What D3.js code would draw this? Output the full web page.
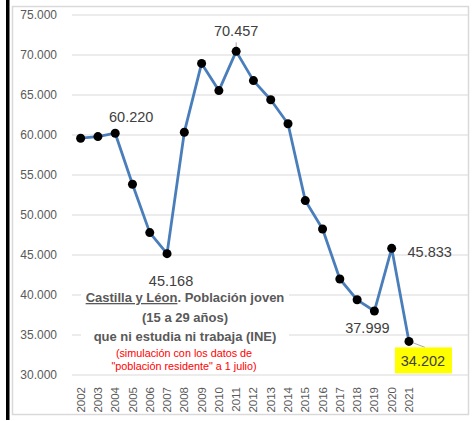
<!DOCTYPE html>
<html>
<head>
<meta charset="utf-8">
<script src="https://cdnjs.cloudflare.com/ajax/libs/d3/7.8.5/d3.min.js"></script>
<style>
    body { margin: 0; background: #fff; }
    svg { display: block; font-family: 'Liberation Sans', Arial, sans-serif; }
</style>
</head>
<body>
<div id="svgContainer"></div>
<script>
//data
var years = ['2002','2003','2004','2005','2006','2007','2008','2009','2010','2011',
    '2012','2013','2014','2015','2016','2017','2018','2019','2020','2021'];
var population = [59600, 59800, 60220, 53850, 47800, 45168, 60350, 68950, 65550, 70457,
    66800, 64400, 61400, 51800, 48250, 42000, 39400, 37999, 45833, 34202];
var yTicks = [30000, 35000, 40000, 45000, 50000, 55000, 60000, 65000, 70000, 75000];
var labelYears = ['2004', '2007', '2011', '2019', '2020', '2021'];
var titleLines = ['Población joven', '(15 a 29 años)', 'que ni estudia ni trabaja (INE)'];
var noteLines = ['(simulación con los datos de', '"población residente" a 1 julio)'];
//end data

var width = 473, height = 421;
var plotLeft = 72, plotRight = 468, plotTop = 15, plotBottom = 375;
var step = 17.28;

var svg = d3.select('#svgContainer').append('svg')
    .attr('width', width)
    .attr('height', height);

var fmt = function(v){ return d3.format(',')(v).replace(/,/g, '.'); };

var x = d3.scaleBand()
    .domain(years)
    .range([plotLeft, plotLeft + step * years.length]);

var y = d3.scaleLinear()
    .domain([30000, 75000])
    .range([plotBottom, plotTop]);

//black bar and chart frame
svg.append('rect')
    .attr('x', 6).attr('y', 0)
    .attr('width', 3.5).attr('height', 420)
    .attr('fill', '#000');

svg.append('rect')
    .attr('x', 12.5).attr('y', 6.5)
    .attr('width', 456).attr('height', 408)
    .attr('fill', '#fff')
    .attr('stroke', '#d9d9d9')
    .attr('stroke-width', 1.5);

//gridlines
svg.append('g')
    .selectAll('line')
    .data(yTicks)
    .enter().append('line')
    .attr('x1', plotLeft)
    .attr('x2', plotRight)
    .attr('y1', function(d){ return y(d); })
    .attr('y2', function(d){ return y(d); })
    .attr('stroke', '#d9d9d9')
    .attr('stroke-width', 1);

//y axis labels
var yAxis = svg.append('g')
    .attr('transform', 'translate(' + (plotLeft - 15) + ',0)')
    .call(d3.axisLeft(y).tickValues(yTicks).tickFormat(fmt).tickSize(0).tickPadding(0));
yAxis.select('.domain').remove();
yAxis.selectAll('text')
    .attr('fill', '#595959')
    .style('font-size', '12px')
    .style('font-family', "'Liberation Sans', Arial, sans-serif");

//x axis labels
var xAxis = svg.append('g')
    .attr('transform', 'translate(0,' + (plotBottom + 12) + ')')
    .call(d3.axisBottom(x).tickSize(0).tickPadding(0));
xAxis.select('.domain').remove();
xAxis.selectAll('text')
    .attr('transform', 'rotate(-90)')
    .attr('text-anchor', 'end')
    .attr('dy', '0.35em')
    .attr('y', 0)
    .attr('x', 0)
    .attr('fill', '#595959')
    .style('font-size', '11.5px')
    .style('font-family', "'Liberation Sans', Arial, sans-serif");

//text box (covers gridlines)
var tb = svg.append('g');
tb.append('rect')
    .attr('x', 81).attr('y', 287)
    .attr('width', 208).attr('height', 85)
    .attr('fill', '#fff');

var t1 = tb.append('text')
    .attr('x', 185).attr('y', 302)
    .attr('text-anchor', 'middle')
    .attr('fill', '#595959')
    .style('font-size', '13px')
    .style('font-weight', 'bold');
t1.append('tspan').attr('text-decoration', 'underline').text('Castilla y Léon');
t1.append('tspan').text('. ' + titleLines[0]);

tb.selectAll('text.tl')
    .data(titleLines.slice(1))
    .enter().append('text')
    .attr('class', 'tl')
    .attr('x', 185)
    .attr('y', function(d,i){ return 321.5 + i * 19.5; })
    .attr('text-anchor', 'middle')
    .attr('fill', '#595959')
    .style('font-size', '13px')
    .style('font-weight', 'bold')
    .text(function(d){ return d; });

tb.selectAll('text.note')
    .data(noteLines)
    .enter().append('text')
    .attr('class', 'note')
    .attr('x', 184)
    .attr('y', function(d,i){ return 356.5 + i * 13.5; })
    .attr('text-anchor', 'middle')
    .attr('fill', '#ff0000')
    .style('font-size', '10.8px')
    .text(function(d){ return d; });

//line
var lineFunc = d3.line()
    .x(function(d,i){ return x(years[i]) + x.bandwidth() / 2; })
    .y(function(d){ return y(d); });

svg.append('path')
    .datum(population)
    .attr('d', lineFunc)
    .attr('fill', 'none')
    .attr('stroke', '#4a7ebb')
    .attr('stroke-width', 2.8)
    .attr('stroke-linejoin', 'round');

//data labels
var cx = function(yr){ return x(yr) + x.bandwidth() / 2; };
var val = function(yr){ return population[years.indexOf(yr)]; };
var labelOffsets = {
    '2004': [16, -16],
    '2007': [4, 27],
    '2011': [0, -20],
    '2019': [-7, 17],
    '2020': [38, 4],
    '2021': [14, 20]
};

//leader lines
svg.append('line')
    .attr('x1', cx('2011')).attr('x2', cx('2011'))
    .attr('y1', y(val('2011')) - 9).attr('y2', y(val('2011')) - 4)
    .attr('stroke', '#a6a6a6').attr('stroke-width', 1);
svg.append('line')
    .attr('x1', cx('2021') + 3).attr('y1', y(val('2021')) + 1)
    .attr('x2', cx('2021') + 16).attr('y2', y(val('2021')) + 6)
    .attr('stroke', '#a6a6a6').attr('stroke-width', 1);

//yellow box for last value
svg.append('rect')
    .attr('x', cx('2021') - 14).attr('y', y(val('2021')) + 6)
    .attr('width', 57).attr('height', 26)
    .attr('fill', '#ffff00');

svg.append('g')
    .selectAll('circle')
    .data(population)
    .enter().append('circle')
    .attr('cx', function(d,i){ return cx(years[i]); })
    .attr('cy', function(d){ return y(d); })
    .attr('r', 4.5)
    .attr('fill', '#000');

svg.append('g')
    .selectAll('text')
    .data(labelYears)
    .enter().append('text')
    .attr('x', function(d){ return cx(d) + labelOffsets[d][0]; })
    .attr('y', function(d){ return y(val(d)) + labelOffsets[d][1]; })
    .attr('dy', '0.35em')
    .attr('text-anchor', 'middle')
    .attr('fill', '#404040')
    .style('font-size', '14.5px')
    .text(function(d){ return fmt(val(d)); });
</script>
</body>
</html>
